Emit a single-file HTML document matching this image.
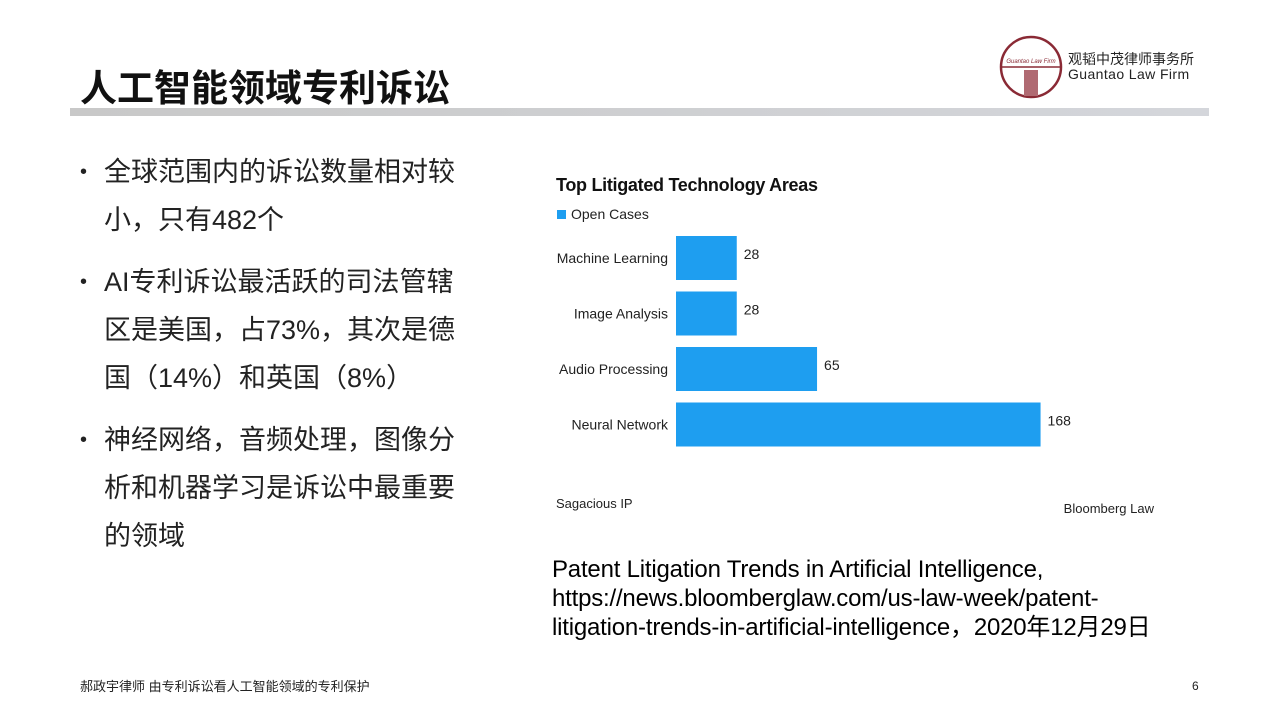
<!DOCTYPE html>
<html><head><meta charset="utf-8"><style>
body{margin:0;width:1280px;height:720px;background:#fff;position:relative;overflow:hidden;font-family:"Liberation Sans","Noto Sans CJK SC",sans-serif;}
.abs{position:absolute;}
#title{left:80px;top:58px;font-size:37px;font-weight:bold;color:#111;white-space:nowrap;}
#rule{left:70px;top:108px;width:1139px;height:8px;background:linear-gradient(90deg,#c8c8c8,#d4d6db);}
.bul{left:80px;font-size:27px;color:#222;line-height:48px;white-space:nowrap;}
.bul span.dot{position:absolute;left:0;top:0;font-size:20px;}
.bul div.t{margin-left:24px;}
#cite{left:552px;top:555px;font-size:24px;color:#000;line-height:29px;white-space:nowrap;letter-spacing:-0.2px;}
#foot{left:80px;top:676px;font-size:13px;color:#222;}
#pg{left:1192px;top:679px;font-size:12px;color:#222;}
</style></head><body>
<div id="title" class="abs">人工智能领域专利诉讼</div>
<div id="rule" class="abs"></div>
<svg class="abs" style="left:998px;top:34px" width="70" height="66">
<circle cx="33" cy="33" r="30" fill="none" stroke="#8a2a35" stroke-width="2.5"/>
<line x1="3" y1="33" x2="63" y2="33" stroke="#8a2a35" stroke-width="1.5"/>
<text x="33" y="29" font-size="6" text-anchor="middle" fill="#8a2a35" font-style="italic">Guantao Law Firm</text>
<rect x="26" y="36" width="14" height="26" fill="#b06a72"/>
</svg>
<div class="abs" style="left:1068px;top:49px;font-size:14px;color:#222">观韬中茂律师事务所</div>
<div class="abs" style="left:1068px;top:66px;font-size:14px;color:#222;letter-spacing:0.4px">Guantao Law Firm</div>

<div class="abs bul" style="top:148px"><span class="dot">•</span><div class="t">全球范围内的诉讼数量相对较<br>小，只有482个</div></div>
<div class="abs bul" style="top:258px"><span class="dot">•</span><div class="t">AI专利诉讼最活跃的司法管辖<br>区是美国，占73%，其次是德<br>国（14%）和英国（8%）</div></div>
<div class="abs bul" style="top:416px"><span class="dot">•</span><div class="t">神经网络，音频处理，图像分<br>析和机器学习是诉讼中最重要<br>的领域</div></div>

<svg id="chart" class="abs" style="left:540px;top:165px" width="640" height="370"></svg>

<div id="cite" class="abs">Patent Litigation Trends in Artificial Intelligence,<br>https://news.bloomberglaw.com/us-law-week/patent-<br>litigation-trends-in-artificial-intelligence，2020年12月29日</div>
<div id="foot" class="abs">郝政宇律师 由专利诉讼看人工智能领域的专利保护</div>
<div id="pg" class="abs">6</div>
<script>
const categories=["Machine Learning","Image Analysis","Audio Processing","Neural Network"];
const openCases=[28,28,65,168];
const svg=document.getElementById('chart');
const NS='http://www.w3.org/2000/svg';
const x0=136, scale=2.17, yTop=71, step=55.5, bh=44;
const xs=v=>x0+v*scale;
const ys=i=>yTop+i*step;
function mk(tag,attrs,txt){const e=document.createElementNS(NS,tag);for(const k in attrs)e.setAttribute(k,attrs[k]);if(txt!==undefined)e.textContent=txt;svg.appendChild(e);return e;}
let t=mk('text',{x:16,y:26,'font-size':18,'font-weight':'bold',fill:'#111','letter-spacing':'-0.3'},'Top Litigated Technology Areas');


let lr=mk('rect',{x:17,y:45,width:9,height:9,fill:'#1e9ef0'});


let lt=mk('text',{x:31,y:54,'font-size':14,fill:'#222'},'Open Cases');


categories.forEach((c,i)=>{
  const r=mk('rect',{x:x0,y:ys(i),width:xs(openCases[i])-x0,height:bh,fill:'#1e9ef0'});
  
  
  const l=mk('text',{x:x0-8,y:ys(i)+bh/2+5,'font-size':14,'text-anchor':'end',fill:'#222'},c);
  
  
  const v=mk('text',{x:xs(openCases[i])+7,y:ys(i)+bh/2+1,'font-size':14,fill:'#222'},String(openCases[i]));
  
  
});
let s1=mk('text',{x:16,y:343,'font-size':13,fill:'#222'},'Sagacious IP');


let s2=mk('text',{x:614,y:348,'font-size':13,'text-anchor':'end',fill:'#222'},'Bloomberg Law');


</script>
</body></html>
